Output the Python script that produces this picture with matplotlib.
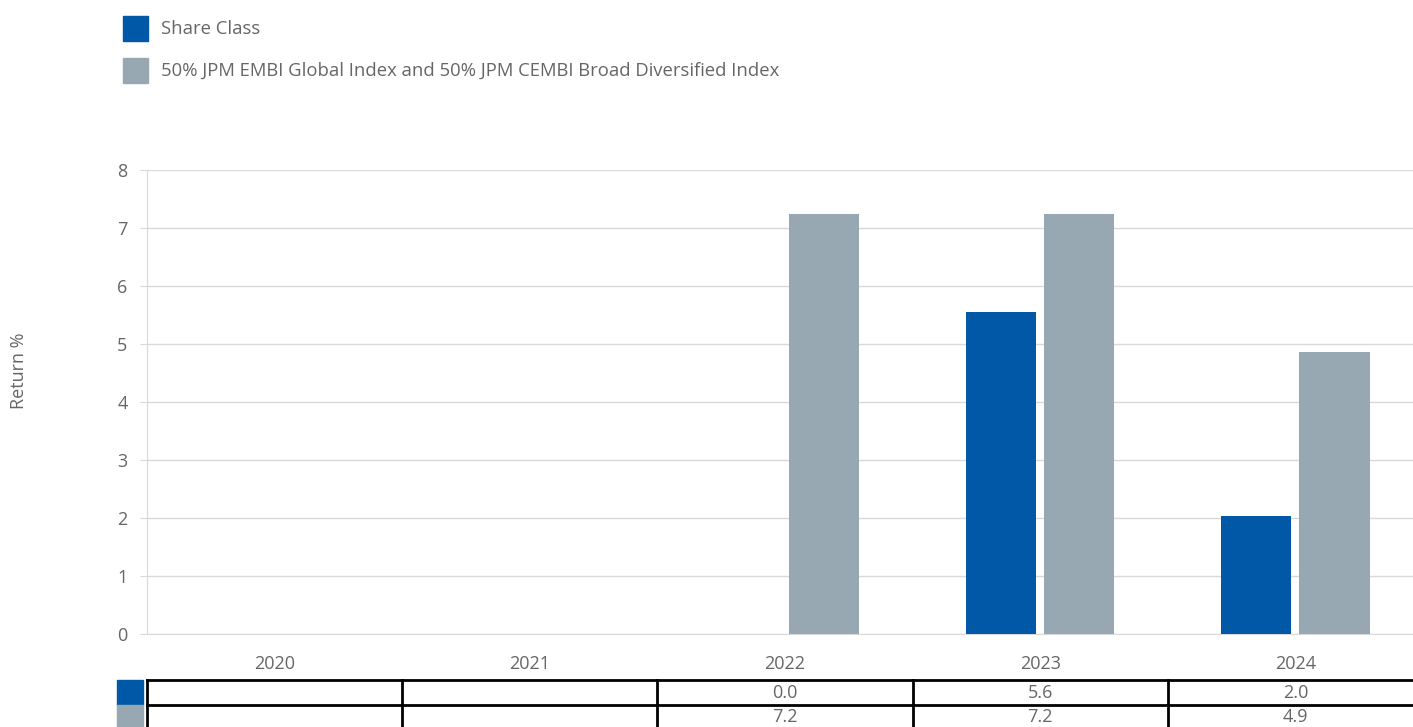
import numpy as np
import matplotlib.pyplot as plt
from matplotlib.patches import Rectangle

plt.rcParams['font.family'] = ['Open Sans', 'DejaVu Sans']

# Data
years = ['2020', '2021', '2022', '2023', '2024']
share_class = [np.nan, np.nan, 0.0, 5.56, 2.03]
benchmark = [np.nan, np.nan, 7.24, 7.24, 4.86]
series_names = ['Share Class',
                '50% JPM EMBI Global Index and 50% JPM CEMBI Broad Diversified Index']
colors = ['#0058a6', '#97a8b3']
txt = '#666666'
fs = 13

W, H = 1413, 727
fig = plt.figure(figsize=(W / 100, H / 100), dpi=100)

def fx(p):
    return p / W

def fy(p):
    return 1 - p / H

# main axes: x 147..1423 px, y 170..634 px
ax = fig.add_axes([fx(147), fy(634), fx(1276), (634 - 170) / H])
x = np.arange(len(years))
off, bw = 0.153, 0.275
ax.bar(x - off, share_class, bw, color=colors[0], zorder=3)
ax.bar(x + off, benchmark, bw, color=colors[1], zorder=3)
ax.set_xlim(-0.5, len(years) - 0.5)
ax.set_ylim(0, 8)
ax.set_yticks(range(0, 9))
ax.grid(axis='y', color='#d9d9d9', lw=1, zorder=0)
for s in ['top', 'right']:
    ax.spines[s].set_visible(False)
ax.spines['left'].set_color('#d9d9d9')
ax.spines['bottom'].set_color('#d9d9d9')
ax.tick_params(axis='y', length=5, color='#d9d9d9', pad=9, labelsize=fs, labelcolor=txt)
ax.set_xticks(x)
ax.set_xticklabels(years)
ax.tick_params(axis='x', length=0, pad=15, labelsize=fs, labelcolor=txt)
fig.text(fx(19), fy(371), 'Return %', rotation=90, ha='center', va='center',
         fontsize=fs, color=txt)

# data table under the chart
tab = fig.add_axes([fx(147), -3 / H, fx(1276), 50 / H])
tab.set_xlim(-0.5, len(years) - 0.5)
tab.set_ylim(2, 0)
tab.axis('off')
for yy in [0, 1, 2]:
    tab.plot([-0.5, len(years) - 0.5], [yy, yy], color='black', lw=2, clip_on=False)
for xx in np.arange(-0.5, len(years) - 0.5, 1.0):
    tab.plot([xx, xx], [0, 2], color='black', lw=2, clip_on=False)
for r, vals in enumerate([share_class, benchmark]):
    for i, v in enumerate(vals):
        if not np.isnan(v):
            tab.text(i, r + 0.5, f'{v:.1f}', ha='center', va='center',
                     fontsize=fs, color=txt)
    fig.patches.append(Rectangle((fx(117), fy(705 + 25 * r)), fx(26), 25 / H,
                                 transform=fig.transFigure, color=colors[r]))

# legend
for k, name in enumerate(series_names):
    top = 16 + 42 * k
    fig.patches.append(Rectangle((fx(123), fy(top + 25)), fx(25), 25 / H,
                                 transform=fig.transFigure, color=colors[k]))
    fig.text(fx(161), fy(top + 13), name, ha='left', va='center',
             fontsize=13.3, color=txt)

fig.savefig('out.png', dpi=100)
